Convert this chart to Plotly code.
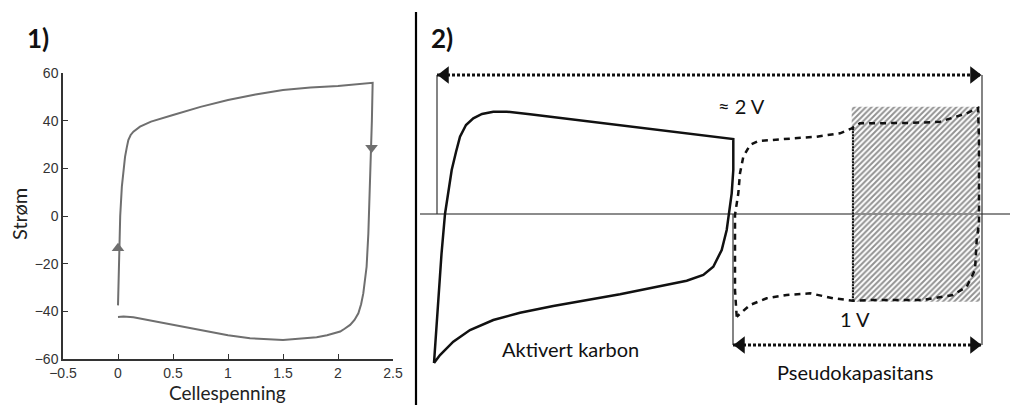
import plotly.graph_objects as go

# ---------------- Panel 1: measured cyclic voltammogram ----------------
cv_voltage = [0.0, 0.005, 0.012, 0.02, 0.035, 0.05, 0.064, 0.08, 0.094, 0.115, 0.14, 0.2, 0.3, 0.5, 0.75,
              1.0, 1.25, 1.5, 1.75, 2.0, 2.15, 2.315,
              2.308, 2.30, 2.288, 2.276, 2.26, 2.245, 2.23, 2.21, 2.185, 2.15, 2.11, 2.06, 2.02, 1.9,
              1.806, 1.5, 1.2, 1.0, 0.745, 0.5, 0.29, 0.14, 0.05, 0.0]
cv_current = [-37.5, -25.0, -12.0, 0.0, 12.3, 20.0, 24.8, 28.8, 31.9, 34.0, 35.4, 37.5, 39.6, 42.4, 45.8,
              48.7, 51.0, 52.9, 53.9, 54.5, 55.1, 55.9,
              40.0, 26.4, 10.0, -7.3, -21.3, -28.0, -32.5, -37.0, -40.8, -43.6, -45.7, -47.3, -48.5, -50.0,
              -50.9, -52.0, -51.3, -50.0, -47.8, -45.7, -43.6, -42.5, -42.2, -42.4]
arrow_v = [0.0, 2.305]
arrow_i = [-13.5, 28.6]
arrow_sym = ["triangle-up", "triangle-down"]
x_ticks = [-0.5, 0.0, 0.5, 1.0, 1.5, 2.0, 2.5]
y_ticks = [-60, -40, -20, 0, 20, 40, 60]

# ---------------- Panel 2: schematic (arbitrary units) ----------------
ac_u = [-0.03, -0.01, 0.013, 0.045, 0.08, 0.147, 0.19, 0.23, 0.29, 0.363, 0.45, 0.563, 0.697, 0.93,
        2.963, 2.963, 2.947, 2.923, 2.897, 2.847, 2.8, 2.763, 2.663, 2.497, 1.83, 1.163, 0.83,
        0.563, 0.33, 0.163, 0.03, -0.03]
ac_v = [-1.49, -1.2, -0.793, -0.4, 0.0, 0.44, 0.62, 0.773, 0.89, 0.957, 1.0, 1.023, 1.023, 0.997,
        0.75, 0.44, 0.207, 0.0, -0.16, -0.36, -0.46, -0.527, -0.61, -0.667, -0.803, -0.92, -0.987,
        -1.06, -1.16, -1.277, -1.41, -1.49]

pc_u = [2.997, 2.98, 2.98, 2.98, 3.013, 3.03, 3.063, 3.13, 3.213, 3.463, 3.797, 4.03, 4.147, 4.23,
        4.43, 4.73, 5.03, 5.297, 5.41, 5.42, 5.42, 5.397, 5.38, 5.297, 5.16, 4.86, 4.36, 4.16,
        3.963, 3.73, 3.497, 3.297, 3.13, 2.997]
pc_v = [-1.027, -0.76, -0.36, -0.01, 0.207, 0.407, 0.573, 0.69, 0.73, 0.75, 0.773, 0.807, 0.857, 0.907,
        0.91, 0.91, 0.923, 1.007, 1.06, 0.74, -0.09, -0.26, -0.56, -0.727, -0.81, -0.86, -0.86, -0.867,
        -0.843, -0.793, -0.81, -0.843, -0.91, -1.027]

hatch_u = [4.147, 5.43, 5.43, 4.147, 4.147]
hatch_v = [1.073, 1.073, -0.877, -0.877, 1.073]
box_edge_u = [4.16, 4.16]
box_edge_v = [0.857, -0.867]

axis_u = [-0.17, 5.73]
axis_v = [0.0, 0.0]

full_span_u = [0.0, 5.45]
full_span_v = [1.39, 1.39]
pseudo_span_u = [2.96, 5.45]
pseudo_span_v = [-1.31, -1.31]
guide_u = [[0.0, 0.0], [2.96, 2.96], [5.45, 5.45]]
guide_v = [[1.39, 0.0], [0.0, -1.31], [1.39, -1.31]]
head_u = [0.08, 5.37, 3.04, 5.37]
head_v = [1.39, 1.39, -1.31, -1.31]
head_sym = ["triangle-left", "triangle-right", "triangle-left", "triangle-right"]

divider_u = [-0.21, -0.21]
divider_v = [2.02, -2.0]

fig = go.Figure()

# ---- panel 1 traces
fig.add_trace(go.Scatter(x=cv_voltage, y=cv_current, mode="lines",
                         line=dict(color="#6f6f6f", width=2), xaxis="x", yaxis="y",
                         showlegend=False, hoverinfo="skip"))
fig.add_trace(go.Scatter(x=arrow_v, y=arrow_i, mode="markers",
                         marker=dict(symbol=arrow_sym, size=11, color="#6f6f6f"),
                         xaxis="x", yaxis="y", showlegend=False, hoverinfo="skip"))

# ---- panel 2 traces
def add2(**kw):
    kw.setdefault("showlegend", False)
    kw.setdefault("hoverinfo", "skip")
    fig.add_trace(go.Scatter(xaxis="x2", yaxis="y2", **kw))

add2(x=hatch_u, y=hatch_v, mode="lines", fill="toself", line=dict(width=0),
     fillcolor="rgba(0,0,0,0)",
     fillpattern=dict(shape="/", size=4, solidity=0.5, fgcolor="#262626", bgcolor="white"))
add2(x=axis_u, y=axis_v, mode="lines", line=dict(color="#8c8c8c", width=1.8))
for gu, gv in zip(guide_u, guide_v):
    add2(x=gu, y=gv, mode="lines", line=dict(color="#333333", width=1.2))
add2(x=full_span_u, y=full_span_v, mode="lines", line=dict(color="#111111", width=3, dash="3px,2px"))
add2(x=pseudo_span_u, y=pseudo_span_v, mode="lines", line=dict(color="#111111", width=3, dash="3px,2px"))
add2(x=head_u, y=head_v, mode="markers", marker=dict(symbol=head_sym, size=15, color="#111111"))
add2(x=ac_u, y=ac_v, mode="lines", line=dict(color="#111111", width=2.5))
add2(x=pc_u, y=pc_v, mode="lines", line=dict(color="#111111", width=2.5, dash="6px,5px"))
add2(x=box_edge_u, y=box_edge_v, mode="lines", line=dict(color="#111111", width=2, dash="2px,1px"))
add2(x=divider_u, y=divider_v, mode="lines", line=dict(color="#000000", width=2.2))

txt_font = dict(family="Lato, Open Sans, sans-serif", color="#111111")
annotations = [
    dict(text="<b>1)</b>", x=-3.99, y=1.76, font=dict(size=26, **txt_font)),
    dict(text="<b>2)</b>", x=0.05, y=1.76, font=dict(size=26, **txt_font)),
    dict(text="≈ 2 V", x=3.04, y=1.08, font=dict(size=20, **txt_font)),
    dict(text="1 V", x=4.18, y=-1.05, font=dict(size=20, **txt_font)),
    dict(text="Aktivert karbon", x=1.33, y=-1.35, font=dict(size=20, **txt_font)),
    dict(text="Pseudokapasitans", x=4.18, y=-1.58, font=dict(size=20, **txt_font)),
    dict(text="Cellespenning", x=(227 - 437) / 100, y=(214 - 392) / 100,
         font=dict(size=19, family="Lato, sans-serif", color="#222222")),
    dict(text="Strøm", x=(19 - 437) / 100, y=0.0, textangle=-90,
         font=dict(size=20, family="Lato, sans-serif", color="#222222")),
]
for a in annotations:
    a.update(xref="x2", yref="y2", showarrow=False, xanchor="center", yanchor="middle")

tick_font = dict(family="Arial, Liberation Sans, sans-serif", size=14, color="#333333")
fig.update_layout(
    width=1016, height=405,
    margin=dict(l=0, r=0, t=0, b=0, pad=0, autoexpand=False),
    paper_bgcolor="white", plot_bgcolor="rgba(0,0,0,0)",
    showlegend=False,
    annotations=annotations,
    xaxis=dict(domain=[63 / 1016, 393 / 1016], range=[-0.5, 2.5], tickvals=x_ticks,
               showline=True, linecolor="#333333", linewidth=1.5, ticks="inside", ticklen=5,
               tickcolor="#333333", showgrid=False, zeroline=False, tickfont=tick_font,
               anchor="y", fixedrange=True, automargin=False),
    yaxis=dict(domain=[(405 - 359) / 405, (405 - 73) / 405], range=[-60, 60], tickvals=y_ticks,
               showline=True, linecolor="#333333", linewidth=1.5, ticks="inside", ticklen=5,
               tickcolor="#333333", showgrid=False, zeroline=False, tickfont=tick_font,
               anchor="x", fixedrange=True, automargin=False),
    xaxis2=dict(domain=[0, 1], range=[-4.37, 5.79], visible=False, anchor="y2", fixedrange=True,
                automargin=False),
    yaxis2=dict(domain=[0, 1], range=[-1.91, 2.14], visible=False, anchor="x2", fixedrange=True,
                automargin=False),
)

fig.write_html("out.html")
